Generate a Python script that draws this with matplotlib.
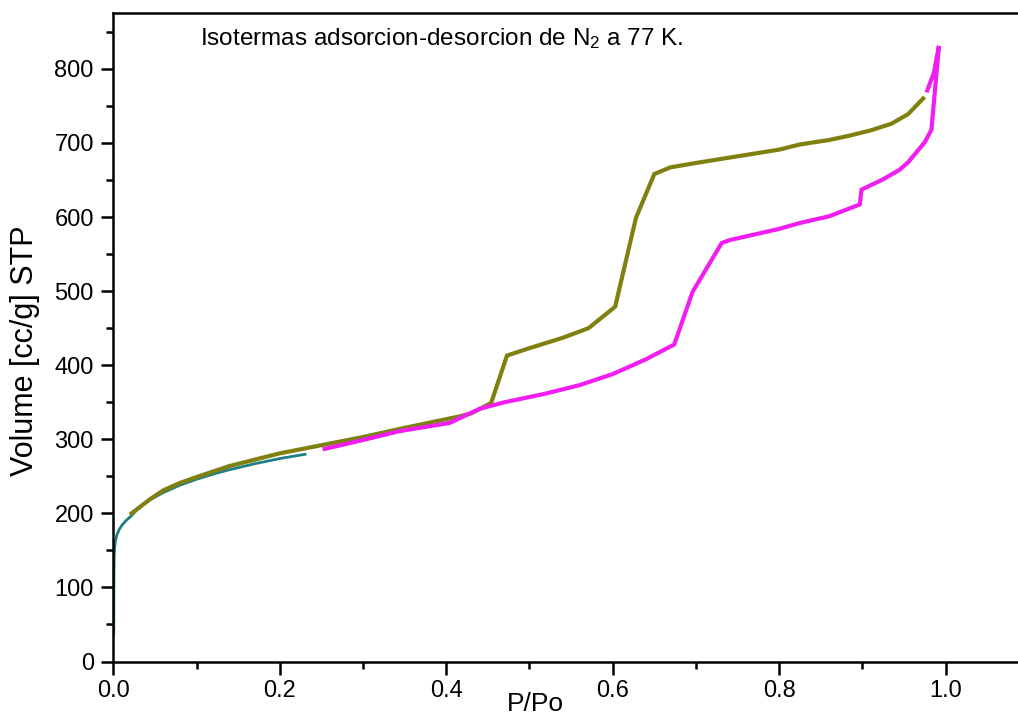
import numpy as np
import matplotlib
matplotlib.use("Agg")
import matplotlib.pyplot as plt

plt.rcParams['font.family'] = ['Liberation Sans', 'DejaVu Sans']
plt.rcParams['mathtext.fontset'] = 'custom'
plt.rcParams['mathtext.rm'] = 'Liberation Sans'

# adsorcion a baja presion (verde azulado)
x_baja = [0.0005, 0.0006, 0.0008, 0.001, 0.0015, 0.0025, 0.004, 0.007, 0.011, 0.016, 0.022,
          0.03, 0.045, 0.06, 0.08, 0.1, 0.12, 0.14, 0.17, 0.2, 0.232]
v_baja = [35, 80, 120, 140, 152, 162, 170, 178, 185, 191, 197,
          207, 219, 228, 238, 246, 253, 259, 267, 274, 280]

# rama de desorcion (oliva)
x_des = [0.022, 0.044, 0.06, 0.08, 0.1, 0.14, 0.2, 0.25, 0.3, 0.344, 0.4165, 0.43, 0.454, 0.473,
         0.5, 0.54, 0.571, 0.603, 0.628, 0.65, 0.669, 0.7, 0.75, 0.8, 0.825, 0.86, 0.885, 0.91,
         0.935, 0.955, 0.973]
v_des = [200, 219, 231, 241, 249, 264, 281, 292, 303, 314, 331, 335, 349, 413,
         423, 437, 450, 479, 599, 658, 667, 673, 682, 691, 698, 704, 710, 717,
         726, 739, 760]

# rama de adsorcion (magenta)
x_ads = [0.254, 0.3, 0.344, 0.404, 0.44, 0.47, 0.517, 0.56, 0.6, 0.64, 0.674, 0.696, 0.731,
         0.741, 0.8, 0.825, 0.86, 0.897, 0.899, 0.925, 0.945, 0.955, 0.975, 0.983, 0.992,
         0.986, 0.978]
v_ads = [287, 299, 311, 322, 341, 350, 361, 373, 388, 408, 428, 499, 565,
         569, 584, 592, 601, 617, 637, 651, 664, 674, 701, 718, 831,
         795, 771]

fig = plt.figure(figsize=(10.18, 7.17), dpi=100)
ax = fig.add_axes([0.1113, 0.0774, 0.8887, 0.9040])

ax.plot(x_baja, v_baja, color='#1f7f86', linewidth=2.0, solid_capstyle='butt')
ax.plot(x_des, v_des, color='#808010', linewidth=3.0, solid_joinstyle='miter')
ax.plot(x_ads, v_ads, color='#f01ef0', linewidth=3.0, solid_joinstyle='miter')

ax.set_xlim(0, 1.087)
ax.set_ylim(0, 875)
ax.set_xticks(np.arange(0, 1.01, 0.2))
ax.set_xticks(np.arange(0.1, 1.1, 0.2), minor=True)
ax.set_yticks(np.arange(0, 801, 100))
ax.set_yticks(np.arange(50, 875, 100), minor=True)
ax.xaxis.set_major_formatter(matplotlib.ticker.FormatStrFormatter('%.1f'))

ax.tick_params(which='major', direction='out', length=9, width=1.8, labelsize=17)
ax.tick_params(which='minor', direction='out', length=5, width=1.8)
ax.tick_params(axis='x', which='major', pad=4.5)
ax.tick_params(axis='y', which='major', pad=5)
for lado in ['left', 'bottom', 'top']:
    ax.spines[lado].set_linewidth(1.8)
ax.spines['right'].set_visible(False)

# etiquetas de ejes colocadas a mano
fig.text(535 / 1018, 1 - 711 / 717, 'P/Po', fontsize=19, ha='center', va='baseline')
fig.text(25 / 1018, 1 - 351 / 717, 'Volume [cc/g] STP', fontsize=22, rotation=90,
         ha='center', va='center')

ax.text(0.104, 832, 'Isotermas adsorcion-desorcion de N$\\mathregular{_2}$ a 77 K.',
        fontsize=17.5, ha='left', va='baseline')

fig.savefig('out.png', dpi=100)
